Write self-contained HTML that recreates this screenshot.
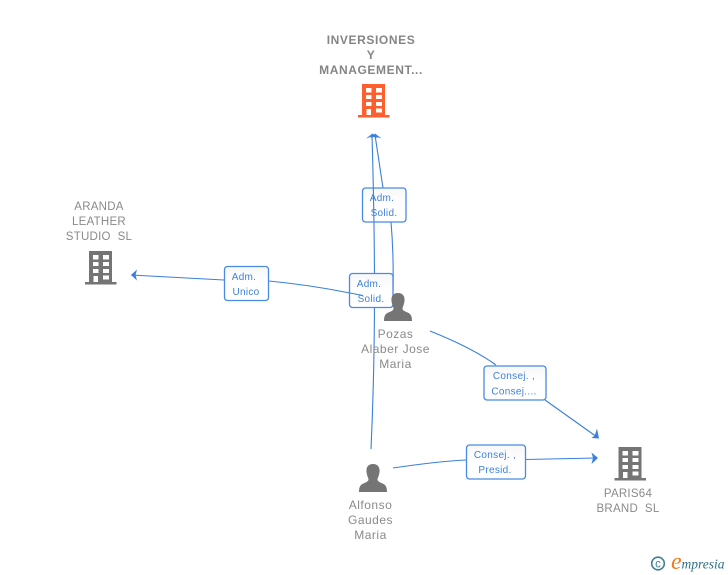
<!DOCTYPE html>
<html><head><meta charset="utf-8">
<style>
html,body{margin:0;padding:0;background:#fff}
body{width:728px;height:575px;overflow:hidden;position:relative}
svg{position:absolute;left:0;top:0}
text{font-family:"Liberation Sans",sans-serif}
.n{font-size:12px;fill:#8a8a8a;text-anchor:middle;letter-spacing:.5px}
.c{font-size:11.5px;fill:#8a8a8a;text-anchor:middle;letter-spacing:.25px}
.b{font-weight:bold;letter-spacing:.6px;font-size:12px;fill:#858585;text-anchor:middle}
.l{font-size:10px;fill:#3f80dc;text-anchor:middle;letter-spacing:.3px}
.box{fill:url(#g);stroke:#4a8ae4;stroke-width:1.3}
.ln{fill:none;stroke:#3a7fdd;stroke-width:1.1}
.ar{fill:#3a7fdd}
</style></head>
<body>
<svg width="728" height="575" viewBox="0 0 728 575" xmlns="http://www.w3.org/2000/svg">
<defs>
<linearGradient id="g" x1="0" y1="0" x2="0" y2="1"><stop offset="0" stop-color="#f7f7f7"/><stop offset=".5" stop-color="#fff"/><stop offset="1" stop-color="#fff"/></linearGradient>
<path id="bld" fill-rule="evenodd" d="M4 0H27V31H31.500V33.500H0V31H4ZM8 4V8.500H13.500V4ZM18 4V8.500H24V4ZM8 11V15H13.500V11ZM18 11V15H24V11ZM8 18V22H13.500V18ZM18 18V22H24V18ZM8.500 25V31H13V25ZM18 24.500V28.500H24V24.500Z"/>
<path id="per" d="M14 0C19 0 21 3.500 20.500 8C20.200 11 19 13.500 18.500 15C18.300 17 20 18 22.500 19C26.500 20.500 28 22.500 28 28H0C0 22.500 1.500 20.500 5.500 19C8 18 9.700 17 9.500 15C9 13.500 7.800 11 7.500 8C7 3.500 9 0 14 0Z"/>
</defs>

<!-- connectors under the first box -->
<path class="ln" d="M393 293C393.500 270 393 245 391 222"/>
<path class="ln" d="M383 188L375 135"/>
<path class="ln" d="M131 275L224 280"/>
<path class="ln" d="M269 281C300 284 325 288 350 293"/>
<path class="ln" d="M430 331C455 341 478 352 496 365"/>
<path class="ln" d="M545 400L597 437"/>
<path class="ln" d="M393 468C420 464 445 461 466 460"/>
<path class="ln" d="M525 459.500L596 458"/>

<!-- boxes -->
<rect class="box" x="362.500" y="188" width="43.500" height="34" rx="3" fill-opacity=".94"/>
<path class="ln" d="M371 449C376 340 375 240 372 135"/>
<rect class="box" x="349.500" y="273.500" width="43.500" height="34" rx="3"/>
<path class="ln" d="M350 293L363 295.500" style="stroke-width:.9"/>
<rect class="box" x="224.500" y="266.500" width="44" height="34" rx="3"/>
<rect class="box" x="484" y="366" width="62" height="34" rx="3"/>
<rect class="box" x="466.500" y="445" width="59" height="34" rx="3"/>

<!-- arrowheads -->
<path class="ar" d="M372.500 133.500L378 138L372 136.500L366 138.500Z"/>
<path class="ar" d="M375 133.500L381.500 138.500L375 136.500L370 138.500Z"/>
<path class="ar" d="M131 275L137 269.500L135.500 275.200L137 280.500Z"/>
<path class="ar" d="M599 438.500L597 428.500L594.800 435.500L591.500 438Z"/>
<path class="ar" d="M598 458L591.500 452.500L593 458L591.500 464Z"/>

<!-- labels -->
<text class="l" x="382" y="201">Adm.</text><text class="l" x="384" y="216">Solid.</text>
<text class="l" x="369" y="287">Adm.</text><text class="l" x="371" y="302">Solid.</text>
<text class="l" x="244" y="280">Adm.</text><text class="l" x="246" y="295">Unico</text>
<text class="l" x="514" y="379">Consej. ,</text><text class="l" x="514" y="394.500">Consej....</text>
<text class="l" x="495" y="458">Consej. ,</text><text class="l" x="495" y="473">Presid.</text>

<!-- icons -->
<use href="#bld" x="358" y="84" fill="#ff5f2e"/>
<use href="#bld" x="85" y="251" fill="#757575"/>
<use href="#bld" x="614.500" y="447" fill="#757575"/>
<use href="#per" x="384" y="293" fill="#757575"/>
<use href="#per" x="359" y="464" fill="#757575"/>

<!-- node text -->
<text class="b" x="371" y="44">INVERSIONES</text>
<text class="b" x="371" y="59">Y</text>
<text class="b" x="371" y="74">MANAGEMENT...</text>
<text class="c" x="99" y="210">ARANDA</text>
<text class="c" x="99" y="225">LEATHER</text>
<text class="c" x="99" y="240">STUDIO&#160; SL</text>
<text class="n" x="395.500" y="338">Pozas</text>
<text class="n" x="395.500" y="353">Alaber Jose</text>
<text class="n" x="395.500" y="368">Maria</text>
<text class="n" x="370.500" y="509">Alfonso</text>
<text class="n" x="370.500" y="524">Gaudes</text>
<text class="n" x="370.500" y="539">Maria</text>
<text class="c" x="628" y="497">PARIS64</text>
<text class="c" x="628" y="512">BRAND&#160; SL</text>

<!-- logo -->
<circle cx="658" cy="563.500" r="6.300" fill="none" stroke="#3d7f96" stroke-width="1.600"/>
<text x="658" y="567.500" font-size="11.500" fill="#3d7f96" text-anchor="middle">c</text>
<text x="671" y="569" font-size="24" font-style="italic" fill="#f47a1c" style="font-family:'Liberation Serif',serif">e</text>
<text x="681.500" y="568.500" font-size="13.500" font-style="italic" fill="#2e6f86" style="font-family:'Liberation Serif',serif">mpresia</text>
</svg>
</body></html>
